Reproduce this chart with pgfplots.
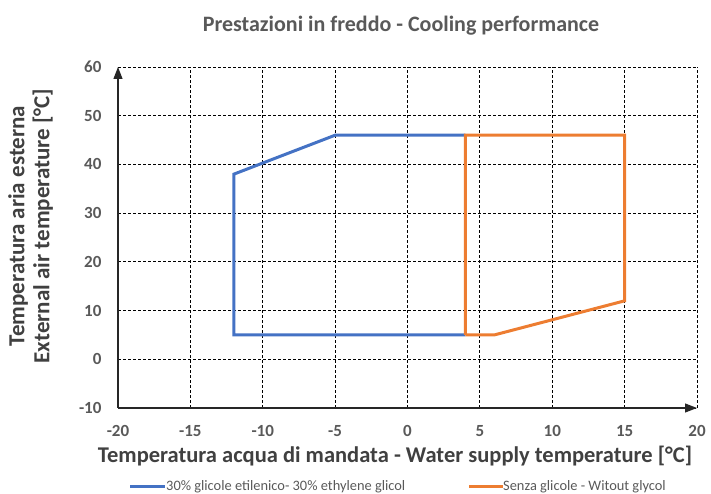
\documentclass[border=0pt]{standalone}
\usepackage{pgfplots}
\pgfplotsset{compat=1.18}
\usepackage{fontspec}
\setmainfont{Carlito}
\usetikzlibrary{arrows.meta}
\definecolor{txt}{HTML}{595959}
\definecolor{lbl}{HTML}{404040}
\definecolor{cblue}{HTML}{4472C4}
\definecolor{corange}{HTML}{ED7D31}
\begin{document}
\begin{tikzpicture}[x=1pt,y=1pt]
\useasboundingbox (-118,-86) rectangle (593,408);
\begin{axis}[at={(0,0)}, anchor=south west, scale only axis, width=579pt, height=341pt,
 xmin=-20,xmax=20,ymin=-10,ymax=60,
 xtick={-20,-15,...,20}, ytick={-10,0,...,60},
 axis lines=left,
 axis line style={line width=1.2pt, color=black!85, -{Triangle[width=9pt,length=12pt]}},
 grid=major, grid style={dash pattern=on 3pt off 2pt, black, line width=0.8pt},
 major tick length=0pt,
 ticklabel style={font=\fontsize{17}{19}\selectfont\bfseries, color=txt},
 /pgf/number format/assume math mode=true,
 xticklabel style={yshift=-14pt},
 yticklabel style={xshift=-13pt},
 clip=false,
]
\addplot[cblue, line width=3pt, line join=miter] coordinates {(4,5) (-12,5) (-12,38) (-5,46) (4,46)};
\addplot[corange, line width=3pt, line join=miter] coordinates {(4,5) (4,46) (15,46) (15,12) (6,5) (4,5)};
\end{axis}
\node[font=\fontsize{22}{26}\selectfont\bfseries, color=txt, anchor=base] at (283,376) {Prestazioni in freddo - Cooling performance};
\node[font=\fontsize{22.5}{26}\selectfont\bfseries, color=lbl, anchor=base] at (277,-55) {Temperatura acqua di mandata - Water supply temperature [°C]};
\node[font=\fontsize{23}{25}\selectfont\bfseries, color=lbl, rotate=90, align=center] at (-87.5,182) {Temperatura aria esterna\\External air temperature [°C]};
\draw[cblue, line width=3pt] (12,-79) -- (47,-79);
\node[font=\fontsize{14.4}{16}\selectfont, color=txt, anchor=west, inner sep=0pt] at (48,-79) {30\% glicole etilenico- 30\% ethylene glicol};
\draw[corange, line width=3pt] (351,-79) -- (385,-79);
\node[font=\fontsize{14.4}{16}\selectfont, color=txt, anchor=west, inner sep=0pt] at (385,-79) {Senza glicole - Witout glycol};
\end{tikzpicture}
\end{document}
